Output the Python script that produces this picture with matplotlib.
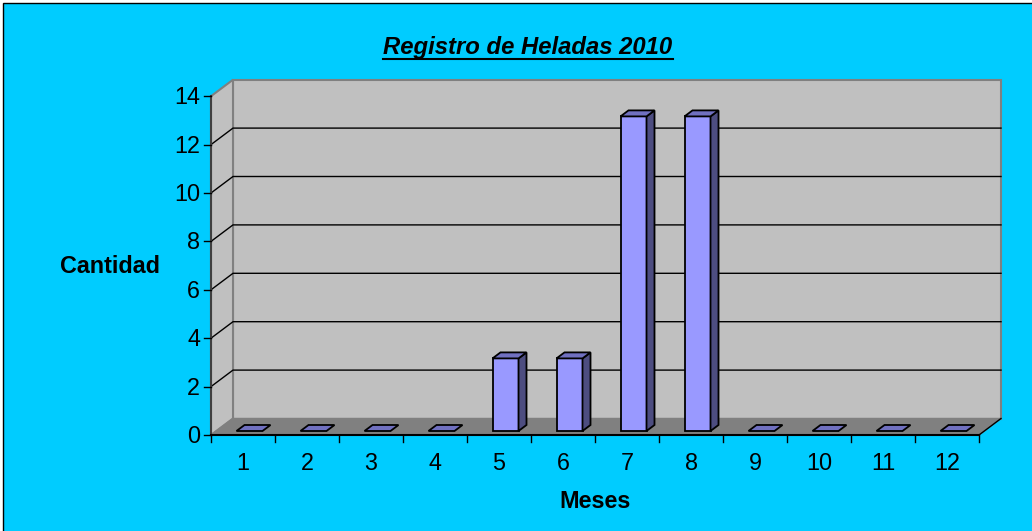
import numpy as np
import matplotlib.pyplot as plt
from matplotlib.patches import Polygon, Rectangle
from matplotlib.lines import Line2D
from matplotlib.transforms import IdentityTransform

months = list(range(1, 13))
heladas = [0, 0, 0, 0, 3, 3, 13, 13, 0, 0, 0, 0]
yticks = [0, 2, 4, 6, 8, 10, 12, 14]
titulo = "Registro de Heladas 2010"
xlabel = "Meses"
ylabel = "Cantidad"

plt.rcParams['font.family'] = ['Liberation Sans', 'DejaVu Sans']

# pixel scale of the plot: 64 px per month, 24.2 px per unit
PX_X, PX_Y = 64.0, 24.2
X0_PX, Y0_PX = 211, 435          # where the front axes meet
WALL_DX, WALL_DY = 22 / PX_X, 16.5 / PX_Y
BAR_DX, BAR_DY = 8 / PX_X, 6 / PX_Y
BAR_Z = 4 / PX_Y                 # bars stand a bit back on the floor
BAR_W = 26 / PX_X
BAR_OFF = -6.5 / PX_X
TICK_X, TICK_Y = 7 / PX_X, 7 / PX_Y
YMAX = yticks[-1]
x0, x1 = months[0] - 0.5, months[-1] + 0.5

FS = 16.8


def px(dx):
    return dx / PX_X


def py(dy):
    return dy / PX_Y


fig = plt.figure(figsize=(10.32, 5.31), dpi=100)
fig.patch.set_facecolor('white')
ax = fig.add_axes([0, 0, 1, 1])
ax.set_xlim(x0 - px(X0_PX), x0 + px(1032 - X0_PX))
ax.set_ylim(-py(531 - Y0_PX), py(Y0_PX))
ax.axis('off')

# chart area: cyan, border at left / top (cropped elsewhere)
fig.add_artist(Rectangle((2.5, -5), 1040, 531 - 2.5 + 5, transform=IdentityTransform(),
                         facecolor='#00CCFF', edgecolor='black', lw=1.0, zorder=-10))

wall_c = '#C0C0C0'
floor_c = '#808080'
edge_c = '#808080'

# back wall
ax.add_patch(Rectangle((x0 + WALL_DX, WALL_DY), x1 - x0, YMAX,
                       facecolor=wall_c, edgecolor=edge_c, lw=1.5, zorder=1))
# side wall
ax.add_patch(Polygon([(x0, 0), (x0 + WALL_DX, WALL_DY), (x0 + WALL_DX, YMAX + WALL_DY), (x0, YMAX)],
                     closed=True, facecolor=wall_c, edgecolor=edge_c, lw=1.5, zorder=1))
# floor
ax.add_patch(Polygon([(x0, 0), (x1, 0), (x1 + WALL_DX, WALL_DY), (x0 + WALL_DX, WALL_DY)],
                     closed=True, facecolor=floor_c, edgecolor=floor_c, lw=1, zorder=2))
ax.plot([x1, x1 + WALL_DX], [0, WALL_DY], color='black', lw=1, zorder=3)

# gridlines
for v in yticks[1:-1]:
    ax.plot([x0, x0 + WALL_DX, x1 + WALL_DX], [v, v + WALL_DY, v + WALL_DY],
            color='black', lw=1, zorder=2)

# bars
front_c, top_c, side_c = '#9999FF', '#7070C0', '#4D4D80'
for m, v in zip(months, heladas):
    l = m + BAR_OFF
    r = l + BAR_W
    b = BAR_Z
    t = v + BAR_Z
    if v > 0:
        ax.add_patch(Rectangle((l, b), BAR_W, v, facecolor=front_c,
                               edgecolor='black', lw=1.3, zorder=5))
        ax.add_patch(Polygon([(r, b), (r + BAR_DX, b + BAR_DY), (r + BAR_DX, t + BAR_DY), (r, t)],
                             closed=True, facecolor=side_c, edgecolor='black', lw=1.3, zorder=5))
    ax.add_patch(Polygon([(l, t), (r, t), (r + BAR_DX, t + BAR_DY), (l + BAR_DX, t + BAR_DY)],
                         closed=True, facecolor=top_c, edgecolor='black', lw=1.3, zorder=5))

# axes lines and ticks
ax.plot([x0, x0], [0, YMAX], color='#404040', lw=1.5, zorder=4)
ax.plot([x0, x1], [0, 0], color='black', lw=1.5, zorder=4)
for v in yticks:
    ax.plot([x0 - TICK_X, x0], [v, v], color='black', lw=1, zorder=4)
    ax.text(x0 - px(11), v - py(1.5), str(v), ha='right', va='center', fontsize=FS)
for k in range(len(months) + 1):
    ax.plot([x0 + k, x0 + k], [0, -TICK_Y], color='black', lw=1, zorder=4)
for m in months:
    ax.text(m, -py(34.5), str(m), ha='center', va='baseline', fontsize=FS)

ax.text(x0 + px(595.5 - X0_PX), -py(508 - Y0_PX), xlabel, ha='center', va='baseline',
        fontsize=FS, fontweight='bold')
ax.text(x0 + px(110 - X0_PX), py(Y0_PX - 273), ylabel, ha='center', va='baseline',
        fontsize=FS, fontweight='bold')
title = ax.text(x0 + px(528 - X0_PX), py(Y0_PX - 54), titulo, ha='center', va='baseline',
                fontsize=17.2, fontweight='bold', fontstyle='italic')

# underline title
fig.canvas.draw()
bb = title.get_window_extent()
uy = 531 - 58.5
fig.add_artist(Line2D([bb.x0, bb.x1], [uy, uy], color='black', lw=1.5,
                      transform=IdentityTransform()))

fig.savefig('out.png', dpi=100)
